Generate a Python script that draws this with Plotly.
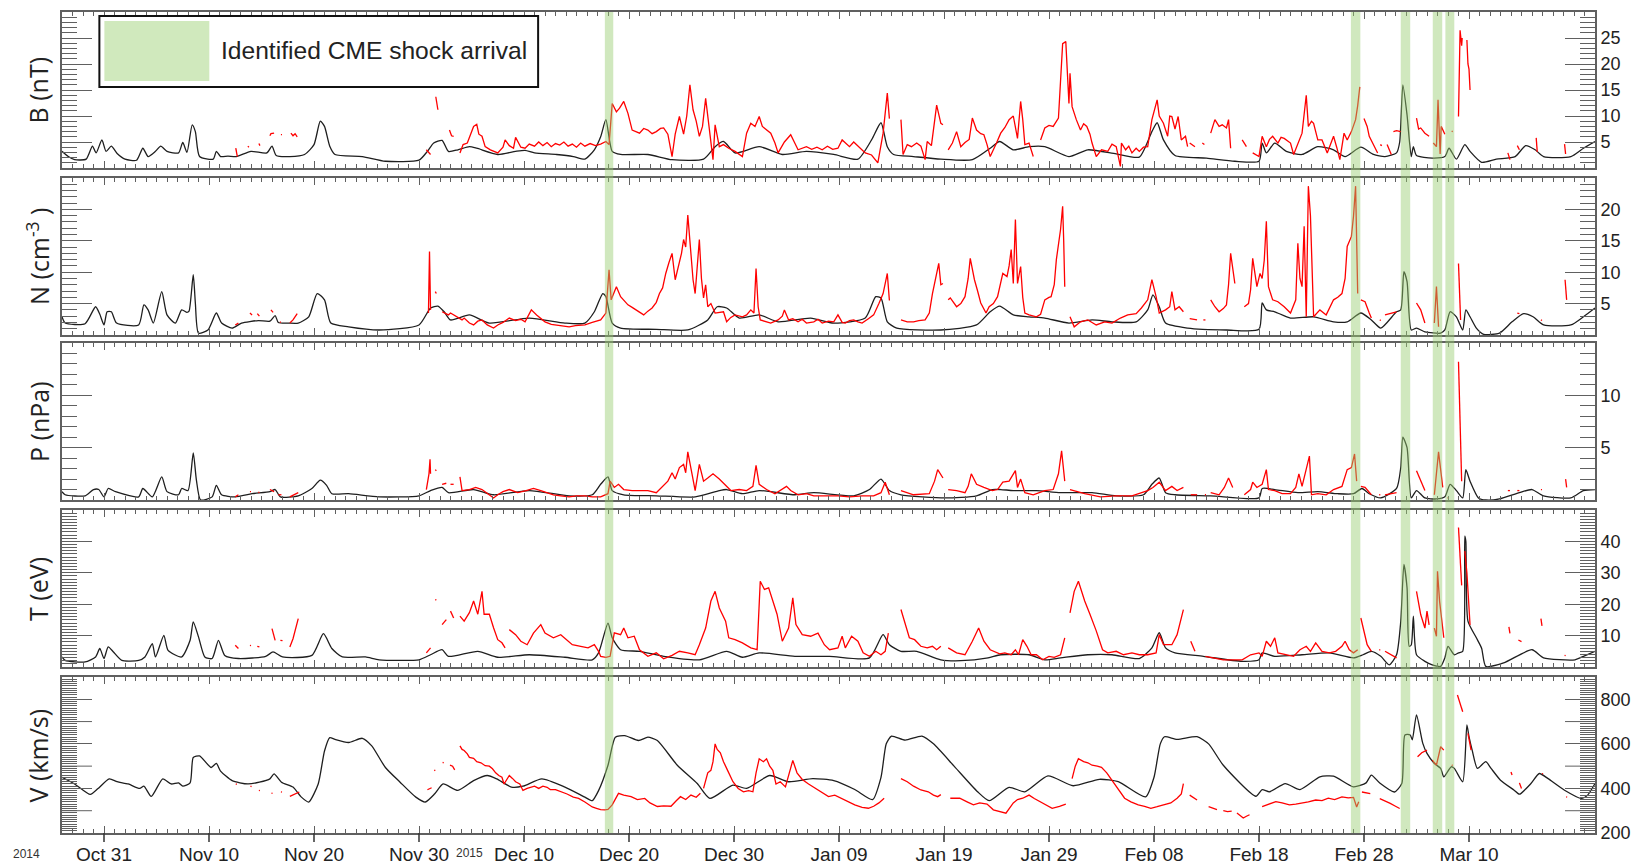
import plotly.graph_objects as go

# ---------------------------------------------------------------------------
# Data  (x = days since 2014-10-27 00:00)
# ---------------------------------------------------------------------------
X_TICK_DAYS = [4, 14, 24, 34, 44, 54, 64, 74, 84, 94, 104, 114, 124, 134]
X_TICK_TEXT = ["Oct 31", "Nov 10", "Nov 20", "Nov 30", "Dec 10", "Dec 20", "Dec 30",
               "Jan 09", "Jan 19", "Jan 29", "Feb 08", "Feb 18", "Feb 28", "Mar 10"]
X_RANGE = [0, 146]
YEAR_LABELS = ["2014", "2015"]
LEGEND_TEXT = "Identified CME shock arrival"

# Identified CME shock arrivals (start day, end day)
CME_BANDS = [(51.7, 52.5), (122.75, 123.65), (127.5, 128.4), (130.55, 131.45), (131.75, 132.6)]

PANEL_TITLES = ["B (nT)", "N (cm<sup>-3</sup> )", "P (nPa)", "T (eV)", "V (km/s)"]
PANEL_RANGES = [(0, 30), (0, 25), (0, 15), (0, 50), (200, 900)]
PANEL_TICKS = [[5, 10, 15, 20, 25], [5, 10, 15, 20], [5, 10], [10, 20, 30, 40], [200, 400, 600, 800]]
PANEL_TICK_TEXT = [["5", "10", "15", "20", "25"], ["5", "10", "15", "20"], ["5", "10"],
                   ["10", "20", "30", "40"], ["200", "400", "600", "800"]]
V_UNLABELED_LONG_TICKS = [300, 500, 700]
PANEL_MINOR = [1, 1, 1, 1, 10]

# ---- magnetic field B (nT) ----
B_MODEL = [(0, 3.2), (0.6, 2.2), (1.2, 1.6), (2.3, 1.7), (2.9, 4.2), (3.25, 2.9), (3.8, 5.4), (4.2, 3.2),
           (4.7, 4.2), (5.25, 2.8), (6.0, 1.7), (7.1, 1.5), (7.7, 3.8), (8.2, 2.2), (8.9, 3.2), (9.4, 4.2),
           (10.0, 3.2), (11.1, 2.9), (11.5, 4.9), (11.9, 3.0), (12.4, 8.3), (12.7, 7.0), (13.1, 2.2),
           (14.4, 1.7), (14.7, 3.2), (15.1, 2.2), (15.8, 2.3), (16.6, 2.2), (18.0, 3.2), (19.5, 2.9),
           (20.0, 4.2), (20.4, 2.4), (21.7, 2.2), (23.1, 2.6), (24.0, 4.5), (24.6, 9.0), (25.0, 8.0),
           (25.5, 4.2), (26.0, 2.6), (28.6, 2.2), (30.8, 1.3), (34.0, 1.5), (34.8, 3.2), (35.4, 4.8),
           (36.2, 5.3), (36.8, 3.2), (37.7, 3.5), (38.8, 4.1), (39.5, 3.8), (41.5, 2.6), (43.2, 3.2),
           (44.1, 3.4), (45.0, 2.9), (47.1, 2.6), (48.7, 2.2), (49.8, 1.7), (50.7, 3.5), (51.3, 6.0),
           (51.8, 9.3), (52.4, 3.2), (53.2, 2.6), (55.8, 2.6), (58.1, 1.6), (61.1, 1.7), (62.2, 4.1),
           (63.0, 5.1), (64.1, 2.9), (66.4, 4.1), (68.6, 2.6), (70.9, 3.2), (73.5, 2.6), (75.8, 1.7),
           (77.1, 5.4), (78.0, 8.7), (78.6, 4.1), (79.2, 2.6), (81.1, 2.2), (83.7, 1.7), (86.7, 1.6),
           (88.4, 3.8), (89.3, 5.1), (90.6, 3.5), (92.1, 4.1), (93.6, 4.1), (95.9, 2.2), (97.7, 3.5),
           (100.4, 2.7), (102.6, 2.1), (103.8, 7.0), (104.3, 8.7), (104.9, 5.4), (106.0, 2.4), (109.0, 1.9),
           (111.7, 1.3), (114.0, 1.3), (114.3, 4.8), (114.7, 2.9), (115.5, 4.8), (116.6, 3.2), (118.1, 2.6),
           (119.6, 4.1), (121.1, 3.5), (122.2, 2.2), (123.7, 4.0), (124.9, 2.6), (126.0, 2.2), (127.1, 2.9),
           (127.4, 5.0), (127.7, 16.0), (128.1, 10.2), (128.5, 2.2), (128.7, 4.1), (129.0, 2.4),
           (130.5, 1.9), (131.7, 2.2), (132.1, 3.8), (132.8, 1.7), (133.6, 4.5), (134.1, 3.2), (135.2, 1.1),
           (136.6, 1.7), (138.4, 2.2), (139.4, 4.3), (140.3, 3.5), (141.1, 2.2), (143.7, 2.2), (144.9, 3.8),
           (146.0, 5.1)]
B_OBS = [
    [(16.55, 3.8), (16.7, 2.2)],
    [(17.7, 4.2), (17.8, 4.0)],
    [(18.75, 4.7), (18.85, 4.3)],
    [(19.8, 6.2), (19.9, 6.6), (20.2, 6.7)],
    [(20.85, 6.4), (20.95, 6.4)],
    [(21.8, 6.7), (22.0, 6.2), (22.2, 6.6), (22.4, 6.0)],
    [(34.7, 3.5), (35.1, 2.6)],
    [(35.6, 13.7), (35.8, 11.2)],
    [(36.9, 7.3), (37.1, 6.2), (37.3, 6.1)],
    [(37.9, 2.9), (38.2, 4.5), (38.6, 4.8), (39.2, 8.0), (39.5, 8.4), (39.7, 6.5), (40.0, 6.1), (40.3, 4.1),
     (40.8, 3.5), (41.5, 2.9), (42.0, 4.0), (42.2, 5.4), (42.6, 4.3), (43.0, 3.8), (43.2, 5.9), (43.7, 4.0),
     (44.1, 3.8), (44.5, 4.6), (45.0, 4.2), (45.4, 5.0), (45.8, 4.3), (46.2, 4.9), (46.6, 4.1), (47.0, 4.7),
     (47.4, 4.4), (47.8, 5.0), (48.2, 4.2), (48.6, 4.6), (49.0, 4.0), (49.4, 4.8), (49.8, 4.2), (50.3, 4.7),
     (50.8, 4.3), (51.3, 4.6), (51.8, 5.1), (52.1, 4.5), (52.4, 12.4), (52.8, 10.8), (53.1, 11.5),
     (53.5, 12.8), (53.9, 10.5), (54.3, 7.3), (55.0, 6.7), (55.4, 7.6), (55.8, 7.3), (56.2, 6.6), (56.6, 7.0),
     (57.0, 7.6), (57.3, 7.7), (57.7, 6.5), (58.1, 2.2), (58.4, 6.5), (58.8, 9.9), (59.2, 6.5), (59.5, 10.0),
     (59.8, 16.0), (60.1, 11.2), (60.4, 9.0), (60.7, 6.1), (61.0, 8.0), (61.3, 13.4), (61.6, 8.6), (62.0, 1.6),
     (62.2, 8.3), (62.6, 4.1), (63.0, 4.5), (63.5, 3.8), (64.1, 3.2), (64.8, 2.2), (65.2, 6.7), (65.6, 8.6),
     (66.0, 8.0), (66.4, 9.9), (66.7, 8.0), (67.1, 7.4), (67.5, 6.7), (67.9, 4.8), (68.2, 2.9), (68.8, 5.0),
     (69.4, 6.4), (70.1, 3.5), (70.9, 4.1), (71.4, 3.6), (71.9, 4.0), (72.4, 3.5), (72.9, 4.2), (73.4, 3.6),
     (73.9, 3.8), (74.3, 5.4), (75.0, 4.1), (75.4, 5.0), (76.0, 3.8), (76.5, 2.9), (77.1, 2.5), (77.7, 1.0),
     (78.2, 6.7), (78.6, 14.4), (78.8, 9.5)],
    [(79.9, 9.3), (80.1, 2.6), (80.5, 4.5), (80.9, 4.1), (81.4, 4.8), (81.8, 4.2), (82.2, 1.6), (82.4, 5.1),
     (82.8, 4.3), (83.3, 12.1), (83.7, 8.6), (83.9, 8.3)],
    [(84.4, 3.5), (84.8, 4.8), (85.2, 7.0), (85.6, 4.1), (86.0, 4.9), (86.4, 5.5), (86.7, 9.6), (87.1, 7.3),
     (87.5, 6.6), (87.8, 6.4), (88.1, 4.5), (88.4, 2.2), (89.0, 4.8), (89.4, 6.7), (89.8, 7.8), (90.2, 9.3),
     (90.6, 10.0), (91.0, 5.7), (91.3, 12.8), (91.5, 9.3), (91.7, 4.5), (92.1, 4.8), (92.5, 2.2)],
    [(93.2, 5.4), (93.6, 7.7), (94.0, 8.2), (94.4, 8.0), (94.9, 9.6), (95.3, 23.9), (95.6, 24.3), (95.8, 16.0),
     (95.9, 12.4), (96.0, 18.2), (96.2, 11.8), (96.6, 9.3), (97.0, 7.3), (97.3, 8.5), (97.6, 8.0), (97.9, 6.5),
     (98.1, 4.8), (98.5, 2.2), (99.0, 3.5), (99.6, 3.2), (100.0, 4.6), (100.4, 4.1), (100.8, 0.3), (100.9, 4.8),
     (101.3, 3.5), (101.6, 4.2), (101.9, 2.9), (102.3, 3.8), (102.6, 3.2), (103.0, 4.0), (103.4, 4.1),
     (103.8, 9.3), (104.3, 13.1), (104.5, 10.0), (104.9, 8.6), (105.3, 6.1), (105.5, 10.0), (105.7, 9.9),
     (106.0, 7.5), (106.3, 9.9), (106.6, 5.4), (107.0, 6.1), (107.2, 4.1)],
    [(107.4, 4.8), (107.9, 4.1)],
    [(108.6, 4.8), (108.8, 4.5)],
    [(109.4, 6.7), (109.8, 9.3), (110.2, 8.0), (110.5, 8.3), (110.9, 7.7), (111.1, 9.3), (111.3, 3.8)],
    [(112.4, 5.4), (112.8, 4.1)],
    [(113.4, 2.9), (114.0, 2.2), (114.3, 6.1), (114.7, 4.1), (115.0, 5.5), (115.3, 6.1), (115.8, 4.8),
     (116.1, 5.9), (116.4, 5.7), (117.0, 4.8), (117.3, 2.6), (117.7, 4.5), (118.1, 6.7), (118.5, 14.0),
     (118.7, 8.0), (119.0, 9.0), (119.2, 8.6), (119.6, 5.4), (120.0, 5.4), (120.5, 2.9), (120.8, 4.5),
     (121.1, 6.1), (121.4, 4.0), (121.7, 1.6), (122.1, 6.7), (122.4, 5.4), (122.8, 7.0), (123.2, 9.3),
     (123.4, 12.0), (123.6, 15.6)],
    [(124.0, 9.5), (124.3, 8.0), (124.5, 6.1), (124.9, 4.5), (125.3, 2.9)],
    [(125.55, 4.5), (125.7, 4.3)],
    [(126.2, 4.5), (126.6, 2.6)],
    [(126.8, 7.0), (127.1, 7.2), (127.5, 7.0)],
    [(129.0, 9.6), (129.2, 7.5), (129.4, 7.7), (129.8, 6.7), (130.2, 6.1)],
    [(130.6, 4.8), (130.9, 4.1), (131.05, 13.1), (131.15, 8.0), (131.25, 2.7), (131.35, 8.0), (131.5, 7.2),
     (131.7, 6.5)],
    [(132.35, 7.1), (132.45, 7.0)],
    [(133.0, 9.9), (133.15, 26.5), (133.3, 23.5), (133.35, 25.0)],
    [(133.8, 24.6), (133.9, 20.0), (134.0, 19.0), (134.1, 15.0)],
    [(137.7, 2.9), (137.9, 1.6)],
    [(138.6, 4.3), (138.8, 3.5)],
    [(140.4, 5.8), (140.5, 3.1)],
    [(143.1, 4.6), (143.2, 2.7)],
]

# ---- density N (cm^-3) ----
N_MODEL = [(0, 2.9), (0.3, 1.9), (2.2, 1.8), (3.2, 4.5), (3.6, 3.3), (4.0, 1.6), (4.3, 3.7), (4.7, 3.7),
           (5.2, 1.9), (7.3, 1.6), (7.8, 4.8), (8.2, 4.0), (8.7, 1.9), (9.5, 6.9), (10.0, 3.2), (10.8, 1.9),
           (11.4, 4.0), (11.9, 3.6), (12.1, 3.8), (12.5, 9.6), (12.7, 5.1), (13.0, 0.3), (13.9, 0.8),
           (14.7, 3.5), (15.2, 1.9), (16.2, 1.1), (17.1, 1.9), (18.7, 2.3), (19.8, 2.2), (20.3, 3.1),
           (20.6, 2.0), (21.6, 1.9), (22.5, 1.9), (23.5, 2.9), (24.3, 6.6), (25.0, 5.6), (25.6, 1.9),
           (27.3, 1.3), (30.2, 0.8), (34.0, 1.6), (35.1, 4.3), (35.8, 4.6), (36.4, 3.7), (37.0, 2.4),
           (38.8, 3.2), (40.7, 1.9), (44.5, 2.7), (47.9, 1.9), (49.8, 1.9), (50.7, 3.7), (51.5, 6.6),
           (51.8, 6.1), (52.4, 1.9), (53.2, 1.1), (56.6, 0.9), (59.6, 0.8), (61.5, 2.4), (62.4, 4.5),
           (63.3, 4.3), (64.5, 2.7), (66.4, 3.2), (68.2, 2.1), (71.3, 2.7), (73.5, 1.9), (76.5, 2.7),
           (77.5, 6.1), (78.0, 5.9), (78.6, 2.1), (79.5, 1.1), (83.7, 0.8), (87.1, 1.6), (88.4, 3.7),
           (89.3, 4.6), (90.6, 3.2), (92.1, 2.9), (93.6, 2.7), (95.9, 1.9), (98.1, 2.4), (100.0, 2.1),
           (102.3, 2.1), (103.4, 4.0), (103.9, 6.4), (104.5, 4.5), (105.1, 1.9), (107.2, 1.1), (110.9, 0.8),
           (114.0, 0.9), (114.3, 5.1), (114.7, 4.0), (115.5, 3.7), (117.0, 2.7), (119.2, 2.9), (121.1, 2.1),
           (122.4, 2.1), (123.7, 3.5), (124.7, 2.4), (125.6, 1.1), (127.1, 3.7), (127.5, 4.0), (127.8, 10.1),
           (128.1, 8.5), (128.5, 0.8), (129.0, 1.1), (129.8, 0.5), (131.3, 0.3), (131.7, 0.8), (132.2, 3.7),
           (132.8, 2.9), (133.4, 0.8), (133.7, 4.0), (134.1, 2.9), (134.7, 1.1), (135.4, 0.1), (136.9, 0.3),
           (138.1, 2.1), (139.2, 3.4), (140.1, 2.9), (141.1, 1.6), (143.7, 1.6), (144.9, 2.9), (146.0, 4.3)]
N_OBS = [
    [(16.5, 1.6), (16.8, 1.9)],
    [(17.9, 3.5), (18.1, 3.2)],
    [(18.6, 3.4), (18.8, 3.0)],
    [(19.9, 4.0), (20.1, 3.6)],
    [(20.75, 2.1), (20.85, 2.0)],
    [(21.7, 1.9), (22.0, 2.4), (22.4, 3.4)],
    [(34.9, 3.5), (35.0, 13.3), (35.1, 4.0)],
    [(35.55, 6.9), (35.65, 6.6)],
    [(36.2, 3.7), (36.8, 3.2), (37.0, 3.5), (37.5, 3.0), (38.1, 2.4), (38.3, 2.7), (38.8, 1.9), (39.2, 1.6),
     (39.6, 2.2), (40.0, 2.4), (40.5, 1.6), (41.1, 1.1), (41.5, 1.6), (42.0, 2.0), (42.6, 2.7), (43.2, 2.3),
     (43.7, 2.5), (44.1, 2.1), (44.7, 4.0), (45.2, 3.2), (45.6, 2.6), (46.0, 2.1), (46.6, 1.7), (47.1, 1.6),
     (47.7, 1.5), (48.3, 1.3), (48.9, 1.5), (49.8, 1.6), (50.5, 2.0), (51.3, 2.4), (51.8, 3.5), (52.1, 10.4),
     (52.3, 5.6), (52.8, 7.7), (53.2, 6.1), (53.9, 4.8), (54.3, 4.4), (54.7, 4.0), (55.4, 3.2), (55.8, 3.8),
     (56.2, 4.3), (56.6, 5.2), (56.9, 6.6), (57.2, 7.5), (57.5, 9.8), (57.8, 11.5), (58.1, 13.0), (58.4, 8.8),
     (58.8, 11.4), (59.0, 13.0), (59.2, 15.2), (59.4, 14.0), (59.6, 19.1), (59.8, 15.2), (60.1, 8.8),
     (60.3, 6.6), (60.5, 11.0), (60.7, 15.2), (60.9, 9.0), (61.1, 5.9), (61.3, 8.0), (61.5, 4.5), (61.8, 5.0),
     (62.2, 3.5), (63.0, 3.7), (63.3, 2.1), (63.7, 2.8), (64.1, 3.2), (64.8, 2.9), (65.2, 3.2), (65.6, 4.0),
     (65.9, 3.5), (66.1, 10.6), (66.3, 4.5), (66.5, 2.4), (67.0, 2.2), (67.5, 1.9), (68.2, 2.4), (68.6, 3.0),
     (68.8, 4.0), (69.2, 2.4), (69.6, 2.6), (70.1, 2.1), (70.5, 2.5), (70.9, 1.9), (71.6, 2.1), (72.0, 2.5),
     (72.4, 1.9), (73.0, 2.2), (73.5, 2.1), (73.9, 3.2), (74.3, 2.0), (74.6, 1.9), (75.0, 2.3), (75.4, 2.4),
     (75.8, 2.1), (76.2, 1.9), (76.8, 2.6), (77.3, 3.2), (77.8, 5.0), (78.2, 6.6), (78.6, 9.8), (78.8, 5.5)],
    [(79.9, 2.4), (80.5, 2.1), (81.1, 2.1), (81.6, 2.3), (82.2, 2.4), (82.6, 3.5), (82.9, 6.6), (83.2, 9.0),
     (83.5, 11.4), (83.7, 8.0), (83.9, 8.2)],
    [(84.4, 5.6), (84.6, 5.9), (85.2, 4.5), (85.6, 5.0), (86.0, 6.1), (86.3, 9.0), (86.5, 12.2), (86.9, 8.8),
     (87.2, 7.0), (87.5, 5.1), (88.0, 3.5), (88.3, 4.5), (88.7, 5.0), (89.1, 6.1), (89.6, 9.8), (90.0, 9.3),
     (90.2, 11.0), (90.4, 13.6), (90.6, 8.2), (90.8, 18.4), (91.0, 8.2), (91.3, 10.9), (91.5, 6.0),
     (91.7, 3.5), (92.1, 3.2), (92.8, 2.9), (93.2, 3.3), (93.6, 5.6), (94.0, 6.0), (94.2, 6.1), (94.5, 8.0),
     (94.7, 12.0), (95.1, 16.8), (95.3, 20.5), (95.4, 15.0), (95.5, 7.7)],
    [(96.0, 2.9), (96.4, 1.3), (97.0, 2.1), (97.7, 2.4), (98.1, 2.0), (98.5, 1.6), (99.3, 2.1), (100.0, 1.9),
     (100.8, 2.7), (101.5, 3.2), (102.3, 3.4), (102.8, 4.3), (103.4, 5.6), (103.8, 8.8), (104.2, 6.1),
     (104.5, 3.5), (105.1, 4.0), (105.5, 4.5), (105.7, 6.9), (106.0, 4.0), (106.4, 4.5), (106.8, 3.7)],
    [(107.4, 2.6), (108.1, 2.4)],
    [(108.7, 2.4), (108.9, 2.4)],
    [(109.4, 5.6), (109.8, 4.5), (110.2, 3.7), (110.6, 4.2), (110.9, 4.8), (111.1, 8.0), (111.3, 13.0),
     (111.7, 8.2)],
    [(112.6, 4.5), (113.0, 5.0), (113.2, 7.2), (113.4, 12.2), (113.8, 7.7), (114.1, 9.8), (114.3, 9.0),
     (114.5, 11.9), (114.7, 18.1), (114.9, 7.7), (115.3, 5.6), (115.8, 5.3), (116.4, 4.5), (117.0, 3.5),
     (117.5, 5.6), (117.7, 14.6), (117.9, 9.0), (118.1, 7.7), (118.3, 17.3), (118.5, 2.9), (118.7, 23.7),
     (118.9, 19.0), (119.2, 2.9), (119.8, 4.0), (120.4, 3.2), (121.1, 5.6), (121.5, 6.0), (121.9, 6.6),
     (122.2, 9.0), (122.4, 14.1), (122.8, 15.7), (123.0, 18.9), (123.2, 23.7), (123.4, 6.6)],
    [(123.7, 5.6), (124.1, 5.3), (124.5, 3.5), (124.7, 2.7)],
    [(125.5, 2.4), (125.6, 2.3)],
    [(126.0, 3.2), (126.5, 3.4), (126.8, 3.5), (127.1, 3.7)],
    [(129.0, 5.1), (129.4, 4.0), (129.8, 1.9)],
    [(130.7, 1.9), (130.9, 7.7), (131.1, 1.3)],
    [(133.0, 11.4), (133.2, 2.4)],
    [(138.6, 3.5), (138.8, 3.4)],
    [(140.85, 2.4), (140.95, 2.3)],
    [(143.15, 8.8), (143.3, 5.6)],
]

# ---- dynamic pressure P (nPa) ----
P_MODEL = [(0, 0.8), (0.3, 0.5), (2.2, 0.4), (3.0, 1.0), (3.5, 1.0), (4.0, 0.3), (4.4, 1.1), (5.1, 0.8),
           (7.3, 0.3), (7.7, 1.1), (8.6, 0.3), (9.5, 2.2), (10.0, 0.8), (11.1, 0.5), (11.4, 1.1), (12.0, 0.9),
           (12.5, 4.5), (12.8, 1.9), (13.2, 0.0), (14.3, 0.3), (14.7, 1.4), (15.2, 0.5), (16.5, 0.3),
           (18.1, 0.6), (19.8, 0.8), (20.3, 1.0), (20.8, 0.3), (22.5, 0.4), (23.8, 1.1), (24.6, 1.9),
           (25.2, 1.4), (25.7, 0.6), (27.3, 0.6), (30.2, 0.3), (34.0, 0.4), (35.1, 0.9), (36.2, 1.2),
           (36.8, 0.7), (39.2, 1.0), (41.1, 0.5), (44.5, 0.9), (48.3, 0.4), (50.5, 0.5), (51.3, 1.5),
           (52.0, 2.2), (52.4, 0.9), (53.5, 0.5), (56.6, 0.4), (60.3, 0.3), (62.6, 0.9), (63.3, 1.0),
           (64.8, 0.6), (66.4, 0.9), (69.8, 0.5), (71.6, 0.7), (75.4, 0.4), (76.9, 1.0), (78.0, 2.0),
           (78.8, 0.9), (79.9, 0.5), (84.1, 0.2), (87.1, 0.4), (88.6, 1.0), (89.4, 1.0), (90.6, 0.9),
           (92.8, 0.9), (95.1, 0.7), (98.1, 0.7), (100.4, 0.4), (103.0, 0.5), (103.8, 1.5), (104.5, 2.1),
           (105.1, 0.7), (106.0, 0.5), (109.4, 0.4), (114.0, 0.2), (114.3, 1.1), (115.5, 1.0), (117.7, 0.7),
           (119.6, 0.8), (121.5, 0.6), (123.0, 0.6), (123.8, 1.1), (124.5, 0.6), (125.6, 0.2), (127.1, 1.1),
           (127.5, 3.1), (127.7, 6.0), (128.1, 5.0), (128.5, 0.2), (129.0, 0.9), (129.8, 0.2), (130.9, 0.1),
           (131.7, 0.3), (132.2, 1.5), (132.8, 0.9), (133.4, 0.2), (133.7, 2.9), (134.1, 1.8), (134.9, 0.2),
           (135.6, 0.0), (136.9, 0.1), (138.8, 0.7), (140.0, 1.0), (141.1, 0.4), (143.7, 0.2), (144.9, 0.9),
           (146.0, 1.0)]
P_OBS = [
    [(16.5, 0.3), (16.8, 0.5)],
    [(17.9, 0.8), (18.0, 0.8)],
    [(18.7, 0.75), (18.8, 0.7)],
    [(19.8, 1.0), (20.2, 0.8)],
    [(20.6, 0.5), (20.9, 0.5)],
    [(21.7, 0.3), (22.5, 0.7)],
    [(34.7, 1.0), (34.95, 2.5), (35.05, 3.9), (35.1, 2.5)],
    [(35.55, 2.9), (35.65, 2.8)],
    [(36.2, 1.5), (36.6, 1.6)],
    [(37.0, 1.5), (37.3, 1.5)],
    [(37.9, 2.2), (38.1, 0.9), (38.8, 1.0), (39.4, 1.2), (40.0, 1.0), (40.6, 0.6), (41.1, 0.2), (41.5, 0.5),
     (42.0, 0.8), (42.6, 1.0), (43.4, 0.7), (44.2, 0.9), (44.9, 1.1), (45.6, 0.9), (46.2, 0.7), (46.8, 0.5),
     (47.5, 0.4), (48.3, 0.3), (49.0, 0.4), (49.8, 0.4), (50.5, 0.3), (51.3, 0.3), (52.0, 0.6), (52.2, 1.8),
     (52.6, 1.2), (53.0, 1.5), (53.5, 1.0), (54.3, 0.9), (55.0, 0.9), (55.8, 0.9), (56.6, 0.7), (57.1, 1.2),
     (57.7, 1.8), (58.1, 2.6), (58.4, 2.0), (58.8, 3.1), (59.2, 3.4), (59.4, 2.6), (59.6, 4.6), (60.0, 2.5),
     (60.3, 0.9), (60.7, 3.4), (61.1, 1.8), (61.5, 2.1), (62.0, 2.5), (62.6, 2.0), (63.2, 1.4), (63.7, 0.9),
     (64.5, 1.0), (65.2, 0.9), (65.8, 1.3), (66.1, 3.3), (66.4, 1.5), (67.1, 1.0), (67.9, 0.6), (68.6, 1.0),
     (69.0, 1.3), (69.4, 0.9), (70.1, 0.5), (70.9, 0.6), (71.6, 0.4), (72.8, 0.4), (73.9, 0.4), (75.0, 0.3),
     (76.2, 0.4), (77.3, 0.4), (78.0, 0.7), (78.4, 1.7), (78.8, 0.5)],
    [(79.9, 0.9), (81.1, 0.5), (82.6, 0.6), (83.1, 1.8), (83.4, 2.9), (83.9, 2.1)],
    [(84.4, 1.0), (85.2, 0.9), (86.0, 0.7), (86.3, 1.3), (86.6, 2.5), (87.1, 1.5), (87.8, 1.2), (88.6, 0.9),
     (89.1, 1.0), (89.6, 1.7), (90.2, 1.8), (90.6, 2.5), (90.8, 2.8), (91.0, 1.2), (91.3, 2.0), (91.7, 0.7),
     (92.5, 0.5), (93.6, 0.9), (94.4, 1.0), (94.9, 2.5), (95.2, 4.7), (95.5, 1.8)],
    [(96.0, 1.0), (97.4, 0.6), (98.9, 0.3), (100.4, 0.4), (101.9, 0.4), (103.4, 0.9), (103.9, 1.2),
     (104.5, 1.7), (105.1, 0.9), (105.7, 1.3), (106.2, 0.9), (106.8, 1.2)],
    [(107.5, 0.5), (108.1, 0.5)],
    [(108.85, 0.5), (108.95, 0.5)],
    [(109.4, 0.7), (110.2, 0.5), (110.7, 1.2), (111.1, 2.1), (111.5, 1.2)],
    [(112.6, 0.5), (113.2, 1.0), (113.4, 1.7), (113.8, 1.2), (114.3, 1.5), (114.7, 2.9), (114.9, 1.0),
     (115.5, 0.9), (116.2, 0.6), (117.0, 0.6), (117.5, 1.2), (117.8, 2.5), (118.1, 1.3), (118.5, 3.1),
     (118.8, 4.2), (119.0, 0.5), (119.6, 0.6), (120.4, 0.5), (121.1, 1.0), (121.9, 1.3), (122.4, 2.9),
     (122.8, 3.1), (123.1, 4.4), (123.3, 1.8)],
    [(123.7, 1.3), (124.1, 1.2), (124.7, 0.5)],
    [(125.45, 0.5), (125.55, 0.5)],
    [(126.0, 0.5), (127.1, 0.7)],
    [(129.0, 2.8), (129.8, 0.9)],
    [(130.7, 0.5), (131.1, 4.6), (131.5, 1.2)],
    [(131.95, 0.2), (132.05, 0.2)],
    [(133.0, 13.2), (133.2, 4.8), (133.3, 1.8)],
    [(137.7, 0.9), (137.9, 0.9)],
    [(138.6, 0.9), (138.8, 0.9)],
    [(140.85, 1.0), (140.95, 1.0)],
    [(143.2, 2.0), (143.3, 1.2)],
]

# ---- temperature T (eV) ----
T_MODEL = [(0, 3.2), (0.3, 2.1), (2.2, 1.6), (3.2, 3.2), (3.6, 5.9), (4.0, 2.7), (4.4, 6.4), (4.9, 4.8),
           (5.7, 2.1), (7.3, 2.1), (7.9, 3.2), (8.6, 7.4), (8.9, 3.2), (9.7, 10.1), (10.1, 5.3), (11.4, 3.2),
           (12.2, 8.5), (12.5, 14.4), (13.0, 9.6), (13.6, 3.2), (14.3, 2.7), (14.9, 8.5), (15.5, 3.7),
           (16.8, 2.7), (19.4, 3.4), (20.1, 4.8), (21.0, 3.2), (23.8, 3.7), (24.9, 10.6), (25.7, 5.9),
           (26.7, 3.2), (28.9, 3.2), (30.2, 2.3), (34.0, 2.3), (35.1, 3.9), (36.2, 5.5), (36.8, 3.4),
           (39.6, 5.0), (41.5, 3.1), (44.5, 3.9), (47.9, 3.1), (50.5, 2.3), (51.1, 4.5), (52.0, 14.0),
           (52.4, 9.3), (53.2, 5.5), (55.0, 5.0), (57.3, 3.4), (60.7, 2.3), (63.3, 5.0), (64.8, 3.1),
           (66.4, 4.5), (69.8, 3.4), (73.1, 3.4), (76.9, 2.9), (78.2, 10.3), (78.8, 7.1), (79.9, 5.0),
           (81.4, 5.0), (83.7, 2.3), (85.6, 2.0), (88.2, 2.9), (89.4, 3.9), (92.1, 3.9), (93.6, 2.3),
           (95.1, 2.9), (97.7, 3.9), (100.0, 3.9), (102.6, 2.7), (103.8, 6.1), (104.5, 10.9), (105.1, 6.1),
           (106.0, 4.5), (108.7, 3.4), (112.4, 1.8), (114.0, 2.3), (114.3, 4.5), (115.5, 3.4), (118.1, 3.9),
           (120.7, 4.5), (123.0, 2.9), (123.9, 3.9), (124.7, 5.0), (125.6, 3.4), (126.4, 0.7), (127.1, 3.9),
           (127.5, 14.5), (127.8, 32.7), (128.1, 25.2), (128.3, 6.6), (128.5, 7.0), (128.7, 16.2), (129.0, 3.9),
           (129.8, 1.8), (130.5, 0.7), (131.3, 0.2), (131.7, 2.9), (132.0, 6.6), (132.6, 3.9), (133.0, 4.5),
           (133.4, 5.0), (133.6, 41.7), (133.7, 40.0), (133.9, 14.6), (134.7, 9.3), (135.2, 6.0), (135.6, 0.2),
           (137.3, 1.3), (140.0, 5.5), (141.1, 2.9), (144.1, 2.3), (144.9, 3.4), (146.0, 5.0)]
T_OBS = [
    [(16.5, 6.9), (16.8, 5.9)],
    [(17.9, 6.9), (18.0, 6.8)],
    [(18.6, 6.6), (18.8, 6.4)],
    [(20.0, 12.2), (20.3, 8.5)],
    [(20.8, 8.5), (21.0, 8.4)],
    [(21.7, 6.4), (22.0, 9.0), (22.5, 15.4)],
    [(34.7, 4.5), (35.1, 6.1)],
    [(35.55, 21.5), (35.65, 21.3)],
    [(36.2, 13.5), (36.6, 15.1)],
    [(37.0, 17.8), (37.3, 15.6)],
    [(37.9, 16.2), (38.3, 14.6), (38.8, 17.3), (39.2, 21.0), (39.6, 16.8), (40.0, 24.1), (40.2, 16.8),
     (40.7, 16.8), (41.1, 12.5), (41.5, 8.7), (41.9, 7.7), (42.2, 6.1)],
    [(42.6, 11.9), (43.2, 10.3), (43.7, 8.2), (44.3, 7.1), (44.9, 10.8), (45.6, 13.5), (46.0, 10.8),
     (46.8, 9.3), (47.5, 10.3), (48.1, 8.7), (48.6, 7.1), (49.4, 6.6), (50.1, 6.1), (50.7, 7.1), (51.1, 5.0),
     (51.3, 3.4), (51.8, 3.1), (52.2, 3.4), (52.6, 10.9), (53.2, 10.3), (53.5, 12.4), (53.9, 9.3),
     (54.5, 9.8), (55.0, 5.5), (55.8, 3.4), (56.6, 4.5), (57.3, 2.6), (58.1, 3.7), (58.8, 5.0), (59.6, 4.5),
     (60.3, 3.9), (60.7, 7.1), (61.3, 12.4), (61.8, 21.0), (62.2, 24.1), (62.6, 18.8), (63.2, 14.6),
     (63.5, 9.3), (64.1, 8.7), (64.8, 7.7), (65.6, 6.1), (66.2, 5.5), (66.5, 27.3), (66.9, 24.7),
     (67.3, 25.2), (67.7, 21.0), (68.1, 16.8), (68.6, 8.2), (69.2, 12.4), (69.6, 22.0), (69.9, 13.5),
     (70.5, 10.3), (71.3, 9.8), (72.0, 10.8), (72.6, 7.1), (73.1, 5.5), (73.9, 6.1), (74.3, 9.8), (74.6, 6.1),
     (75.2, 9.8), (75.8, 8.2), (76.3, 4.5), (76.9, 3.4), (77.5, 5.0), (78.0, 3.9), (78.4, 5.0), (78.7, 10.8)],
    [(79.9, 18.3), (80.3, 13.5), (80.7, 9.3), (81.2, 8.7), (81.8, 6.6), (82.4, 6.1), (82.9, 6.6), (83.3, 5.5),
     (83.7, 6.6)],
    [(84.4, 6.1), (85.2, 4.5), (86.0, 3.9), (86.7, 8.2), (87.3, 12.4), (87.8, 8.2), (88.4, 5.5), (89.3, 4.2),
     (89.8, 4.5), (90.4, 3.9), (90.8, 5.5), (91.1, 3.9), (91.5, 8.7), (91.9, 6.6), (92.3, 3.9), (92.8, 3.9),
     (93.4, 2.3), (94.0, 3.4), (94.5, 3.1), (95.1, 3.9), (95.5, 9.3)],
    [(96.0, 17.2), (96.4, 24.1), (96.8, 27.3), (97.4, 21.0), (97.9, 16.8), (98.5, 11.5), (99.1, 5.5),
     (99.6, 4.5), (100.4, 5.0), (101.1, 3.9), (101.9, 4.5), (102.6, 3.9), (103.4, 3.9), (104.2, 4.5),
     (104.5, 10.3), (104.9, 7.1), (105.7, 7.1), (106.2, 10.3), (106.8, 18.3)],
    [(107.5, 8.2), (107.9, 5.0)],
    [(108.9, 3.4), (109.8, 2.9), (110.6, 2.3), (111.3, 2.3), (112.4, 2.3), (113.2, 3.9), (114.0, 4.5),
     (114.3, 3.4), (114.7, 8.2), (115.1, 6.6), (115.5, 9.3), (115.8, 4.5), (116.6, 3.9), (117.3, 3.4),
     (117.9, 5.5), (118.5, 6.6), (118.9, 5.0), (119.4, 7.7), (120.0, 5.0), (120.7, 4.5), (121.3, 5.0),
     (121.9, 6.6), (122.2, 8.2), (122.6, 5.5), (123.0, 4.5), (123.4, 5.5)],
    [(123.7, 15.6), (123.9, 12.4), (124.3, 7.1), (124.7, 5.0)],
    [(125.45, 5.5), (125.55, 5.4)],
    [(126.0, 5.0), (126.5, 4.0), (127.1, 2.9)],
    [(129.0, 24.1), (129.2, 20.0), (129.4, 16.7), (129.8, 12.4), (130.0, 17.8), (130.2, 13.4)],
    [(130.7, 12.4), (130.9, 9.8), (131.0, 30.5), (131.2, 20.9), (131.6, 9.3)],
    [(133.0, 44.4), (133.3, 26.0)],
    [(133.6, 36.9), (133.8, 30.0), (134.1, 13.4)],
    [(137.8, 12.8), (137.9, 10.7)],
    [(138.7, 8.6), (139.0, 8.1)],
    [(140.85, 15.4), (140.95, 13.1)],
    [(143.1, 3.7), (143.2, 3.6)],
]

# ---- bulk speed V (km/s) ----
V_MODEL = [(0, 450), (1.2, 420), (2.7, 373), (3.4, 398), (4.5, 443), (5.25, 430), (6.3, 420), (7.4, 400),
           (7.8, 410), (8.5, 364), (9.6, 443), (10.4, 420), (11.1, 425), (11.5, 410), (12.2, 425), (12.5, 539),
           (13.1, 546), (14.2, 494), (14.7, 512), (15.1, 478), (16.2, 435), (17.7, 420), (18.8, 428),
           (19.8, 443), (20.2, 465), (20.9, 428), (22.0, 406), (22.8, 361), (23.5, 339), (24.4, 420),
           (25.0, 568), (25.5, 628), (26.0, 620), (27.3, 606), (28.6, 625), (29.5, 591), (30.8, 494),
           (32.2, 428), (33.7, 361), (34.6, 339), (35.5, 376), (36.3, 420), (37.7, 391), (39.2, 435),
           (40.5, 458), (41.4, 443), (42.8, 406), (43.9, 410), (45.7, 443), (47.9, 406), (49.8, 361),
           (50.5, 345), (51.1, 390), (52.0, 504), (52.7, 630), (53.6, 637), (54.9, 615), (55.8, 630),
           (56.7, 615), (58.6, 504), (60.5, 422), (61.7, 355), (63.9, 415), (65.2, 400), (67.4, 458),
           (69.2, 430), (71.5, 444), (73.5, 435), (75.5, 395), (77.2, 350), (78.0, 450), (78.5, 600),
           (79.0, 635), (80.3, 617), (81.9, 635), (83.0, 600), (85.0, 498), (87.2, 385), (88.3, 345),
           (90.2, 405), (91.7, 385), (93.9, 456), (96.3, 412), (98.8, 441), (100.6, 430), (103.2, 362),
           (104.0, 450), (104.6, 600), (105.0, 632), (106.2, 620), (108.1, 632), (109.2, 600), (110.6, 504),
           (113.7, 365), (114.3, 395), (115.0, 385), (116.5, 422), (117.9, 395), (119.8, 452), (121.1, 455),
           (123.0, 407), (124.2, 425), (124.7, 460), (125.5, 424), (126.9, 384), (127.6, 422), (127.9, 640),
           (128.4, 640), (128.6, 618), (129.0, 730), (129.6, 602), (130.0, 557), (130.7, 512), (131.3, 490),
           (131.6, 452), (132.3, 497), (132.6, 490), (133.4, 430), (133.8, 685), (134.0, 632), (134.3, 572),
           (134.8, 490), (135.6, 520), (136.1, 490), (137.0, 437), (138.3, 392), (138.8, 374), (139.9, 422),
           (140.7, 467), (141.5, 445), (143.1, 392), (144.7, 355), (145.3, 370), (146.0, 422)]
V_OBS = [
    [(16.55, 420), (16.65, 418)],
    [(17.95, 410), (18.05, 408)],
    [(18.75, 391), (18.85, 390)],
    [(19.95, 379), (20.05, 378)],
    [(20.85, 384), (20.95, 383)],
    [(21.7, 364), (22.0, 370), (22.3, 378), (22.6, 384)],
    [(34.8, 394), (35.2, 403)],
    [(35.45, 483), (35.55, 480)],
    [(36.25, 517), (36.35, 515)],
    [(36.95, 505), (37.2, 500), (37.4, 483)],
    [(37.9, 591), (38.1, 575), (38.3, 570), (38.6, 555), (38.8, 539), (39.2, 535), (39.5, 520), (39.9, 515),
     (40.3, 502), (40.7, 500), (41.0, 488), (41.3, 470), (41.6, 458), (41.9, 450), (42.1, 420), (42.4, 440),
     (42.6, 458), (42.9, 445), (43.2, 430), (43.6, 420), (43.9, 391), (44.3, 400), (44.7, 405), (45.0, 410),
     (45.4, 400), (45.8, 410), (46.2, 405), (46.5, 395), (47.0, 395), (47.6, 385), (48.1, 375), (48.7, 361),
     (49.2, 355), (49.8, 339), (50.2, 325), (50.5, 317), (50.9, 311), (51.3, 305), (51.7, 304), (52.0, 306),
     (52.4, 326), (52.7, 350), (53.0, 378), (53.5, 370), (54.2, 363), (54.8, 350), (55.5, 355), (56.0, 335),
     (56.7, 319), (57.3, 322), (58.0, 320), (58.5, 345), (58.9, 363), (59.4, 350), (59.9, 370), (60.4, 360),
     (60.8, 378)],
    [(61.1, 400), (61.5, 470), (61.8, 481), (62.0, 520), (62.2, 600), (62.4, 575), (62.7, 560), (63.0, 520),
     (63.4, 480), (63.9, 430), (64.4, 400), (64.9, 385), (65.4, 390), (65.8, 385), (66.1, 470), (66.4, 533),
     (66.8, 520), (67.1, 533), (67.4, 500), (67.7, 481), (68.0, 420), (68.4, 430), (68.9, 407), (69.3, 480),
     (69.6, 526), (70.0, 470), (70.5, 440), (71.1, 420), (71.8, 400), (72.4, 380), (73.0, 363), (73.6, 370),
     (74.3, 355), (74.9, 340), (75.5, 326), (76.2, 315), (76.8, 311), (77.3, 320), (77.8, 335), (78.3, 356)],
    [(79.9, 444), (80.5, 430), (81.1, 410), (81.8, 393), (82.5, 385), (83.0, 370), (83.4, 363), (83.7, 372)],
    [(84.6, 356), (85.5, 356), (86.2, 340), (86.8, 326), (87.4, 335), (88.1, 330), (88.7, 304), (89.3, 295),
     (89.9, 289), (90.6, 335), (91.0, 350), (91.5, 356), (92.1, 370), (92.6, 355), (93.1, 341), (93.7, 325),
     (94.3, 311), (95.0, 320), (95.6, 330)],
    [(96.2, 444), (96.5, 500), (96.8, 533), (97.3, 520), (97.7, 515), (98.1, 504), (98.6, 500), (99.0, 495),
     (99.5, 470), (99.9, 444), (100.5, 400), (101.2, 356), (101.8, 340), (102.5, 326), (103.1, 320),
     (103.7, 311), (104.3, 318), (105.0, 326), (105.6, 335), (106.2, 356), (106.6, 375), (106.8, 422)],
    [(107.4, 370), (107.7, 360), (108.1, 348)],
    [(109.2, 318), (109.6, 311), (110.0, 305)],
    [(110.6, 300), (111.0, 296), (111.4, 298)],
    [(111.9, 290), (112.5, 267), (112.8, 275), (113.1, 282)],
    [(114.3, 318), (114.9, 330), (115.6, 341), (116.2, 335), (116.9, 326), (117.5, 330), (118.1, 334),
     (118.7, 340), (119.4, 348), (120.0, 345), (120.6, 356), (121.2, 350), (121.9, 362), (122.5, 358),
     (123.0, 360), (123.3, 317), (123.5, 340)],
    [(123.8, 384), (124.2, 380), (124.6, 377)],
    [(125.5, 354), (126.0, 345), (126.5, 333), (127.0, 320), (127.4, 310)],
    [(129.1, 542), (129.5, 560), (130.0, 572)],
    [(130.5, 527), (130.9, 505), (131.3, 587), (131.6, 572)],
    [(132.35, 505), (132.45, 503)],
    [(132.9, 819), (133.1, 790), (133.4, 744)],
    [(133.9, 647), (134.05, 600), (134.2, 572)],
    [(138.0, 474), (138.1, 460)],
    [(138.8, 425), (139.0, 400)],
    [(140.95, 467), (141.05, 465)],
    [(143.25, 362), (143.35, 361)],
]

# ---------------------------------------------------------------------------
# Layout geometry (pixels of the 1638 x 866 page)
# ---------------------------------------------------------------------------
W, H = 1638, 866
PLOT_L, PLOT_R, PLOT_T, PLOT_B = 61.6, 1595.5, 12.0, 833.0
PANEL_PX = [(12, 168), (178, 335), (343, 500), (510, 667), (677, 833)]
MAJOR_TICK_LEN = 30

AX = "#606060"
TICK_FONT = "Liberation Sans, Arial, Helvetica, sans-serif"
TITLE_FONT = "Open Sans, Liberation Sans, Arial, sans-serif"


def px_x(x):
    return (x - PLOT_L) / (PLOT_R - PLOT_L)


def px_y(y):
    return (PLOT_B - y) / (PLOT_B - PLOT_T)


def seg_xy(segments):
    xs, ys = [], []
    for seg in segments:
        for d, v in seg:
            xs.append(d)
            ys.append(v)
        xs.append(None)
        ys.append(None)
    return xs, ys


models = [B_MODEL, N_MODEL, P_MODEL, T_MODEL, V_MODEL]
observations = [B_OBS, N_OBS, P_OBS, T_OBS, V_OBS]

fig = go.Figure()
layout = {}
for i in range(5):
    xa = "x" if i == 0 else f"x{i + 1}"
    ya = "y" if i == 0 else f"y{i + 1}"
    fig.add_trace(go.Scatter(x=[p[0] for p in models[i]], y=[p[1] for p in models[i]], mode="lines",
                             line=dict(color="#1e1e1e", width=1.3, shape="spline", smoothing=0.6),
                             xaxis=xa, yaxis=ya, showlegend=False, hoverinfo="skip"))
    ox, oy = seg_xy(observations[i])
    fig.add_trace(go.Scatter(x=ox, y=oy, mode="lines", line=dict(color="#ff0000", width=1.3),
                             xaxis=xa, yaxis=ya, showlegend=False, hoverinfo="skip",
                             connectgaps=False))
    top, bot = PANEL_PX[i]
    xkey = "xaxis" if i == 0 else f"xaxis{i + 1}"
    ykey = "yaxis" if i == 0 else f"yaxis{i + 1}"
    layout[xkey] = dict(
        domain=[0, 1], range=X_RANGE, anchor=ya, tickmode="array", tickvals=X_TICK_DAYS,
        ticktext=X_TICK_TEXT, showticklabels=(i == 4), ticks="inside", ticklen=7, tickwidth=1,
        tickcolor=AX, minor=dict(tickmode="linear", tick0=0, dtick=1, ticks="inside", ticklen=4,
                                 tickcolor=AX, tickwidth=1),
        showline=True, linecolor=AX, linewidth=2, mirror="allticks", showgrid=False, zeroline=False,
        tickfont=dict(family=TICK_FONT, size=19, color="#222"), ticklabelstandoff=3,
        automargin=False,
    )
    if i > 0:
        layout[xkey]["matches"] = "x"
    layout[ykey] = dict(
        domain=[px_y(bot), px_y(top)], range=list(PANEL_RANGES[i]), anchor=xa, side="right",
        tickmode="array", tickvals=PANEL_TICKS[i], ticktext=PANEL_TICK_TEXT[i],
        ticks="inside", ticklen=MAJOR_TICK_LEN, tickwidth=1, tickcolor=AX,
        minor=dict(tickmode="linear", tick0=0, dtick=PANEL_MINOR[i], ticks="inside", ticklen=15,
                   tickcolor=AX, tickwidth=1),
        showline=True, linecolor=AX, linewidth=2, mirror="allticks", showgrid=False, zeroline=False,
        tickfont=dict(family=TICK_FONT, size=18, color="#222"), automargin=False,
    )

shapes = []
# unlabelled long ticks of the speed panel (both sides)
tick_frac = MAJOR_TICK_LEN / (PLOT_R - PLOT_L)
for v in V_UNLABELED_LONG_TICKS:
    for xa0, xa1 in ((0, tick_frac), (1 - tick_frac, 1)):
        shapes.append(dict(type="line", xref="paper", yref="y5", x0=xa0, x1=xa1, y0=v, y1=v,
                           line=dict(color=AX, width=1)))
# CME shock bands (semi-transparent, over the data like the original)
for d0, d1 in CME_BANDS:
    shapes.append(dict(type="rect", xref="x", yref="paper", x0=d0, x1=d1, y0=0, y1=1,
                       fillcolor="rgba(150,205,110,0.45)", line=dict(width=0), layer="above"))
# major date ticks crossing the bottom axis
for d in X_TICK_DAYS:
    shapes.append(dict(type="line", xref="x5", yref="paper", x0=d, x1=d, y0=0, y1=px_y(PLOT_B + 9),
                       line=dict(color="#333", width=1.5)))
# legend box
shapes.append(dict(type="rect", xref="paper", yref="paper", x0=px_x(99), x1=px_x(538),
                   y0=px_y(87), y1=px_y(16), fillcolor="white", line=dict(color="#111", width=2),
                   layer="above"))
shapes.append(dict(type="rect", xref="paper", yref="paper", x0=px_x(104), x1=px_x(209),
                   y0=px_y(81), y1=px_y(21), fillcolor="#d0e9bd", line=dict(width=0), layer="above"))

annotations = []
for i, title in enumerate(PANEL_TITLES):
    top, bot = PANEL_PX[i]
    annotations.append(dict(text=title, xref="paper", yref="paper", x=px_x(38), y=px_y((top + bot) / 2),
                            textangle=-90, showarrow=False, xanchor="center", yanchor="middle",
                            font=dict(family=TITLE_FONT, size=25, color="#222")))
annotations.append(dict(text=LEGEND_TEXT, xref="paper", yref="paper", x=px_x(219), y=px_y(51),
                        xanchor="left", yanchor="middle", showarrow=False,
                        font=dict(family=TICK_FONT, size=24.6, color="#222")))
annotations.append(dict(text=YEAR_LABELS[0], xref="paper", yref="paper", x=px_x(26), y=px_y(854),
                        xanchor="center", yanchor="middle", showarrow=False,
                        font=dict(family=TICK_FONT, size=12, color="#333")))
annotations.append(dict(text=YEAR_LABELS[1], xref="paper", yref="paper", x=px_x(469), y=px_y(853),
                        xanchor="center", yanchor="middle", showarrow=False,
                        font=dict(family=TICK_FONT, size=12, color="#333")))

fig.update_layout(
    width=W, height=H,
    margin=dict(l=PLOT_L, r=W - PLOT_R, t=PLOT_T, b=H - PLOT_B, pad=0, autoexpand=False),
    paper_bgcolor="white", plot_bgcolor="white",
    showlegend=False, shapes=shapes, annotations=annotations, hovermode=False,
    **layout,
)

fig.write_html("out.html")
